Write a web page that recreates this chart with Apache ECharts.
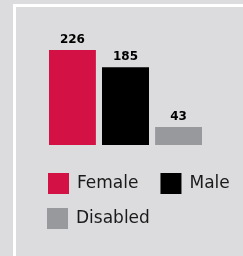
<!DOCTYPE html>
<html>
<head>
<meta charset="utf-8">
<script src="https://cdn.jsdelivr.net/npm/echarts@6/dist/echarts.min.js"></script>
<style>
  html, body { margin: 0; padding: 0; background: #dcdcde; }
  #main { width: 243px; height: 256px; }
</style>
</head>
<body>
<div id="main"></div>
<script>
var names = ['Female', 'Male', 'Disabled']
var values = [226, 185, 43]
var colors = ['#d31145', '#000000', '#98999c']

var myChart = echarts.init(document.getElementById('main'))

var series = names.map((n, i) => {
    return {
        name: n,
        type: 'bar',
        data: [values[i]],
        barWidth: 47,
        barGap: '13%',
        itemStyle: { color: colors[i] },
        label: {
            show: true,
            position: 'top',
            distance: 4,
            color: '#000',
            fontFamily: 'DejaVu Sans',
            fontWeight: 'bold',
            fontSize: 12
        }
    }
})

// two rows of legend, like the original
var legendBase = {
    padding: 0,
    itemWidth: 21,
    itemHeight: 21,
    itemGap: 22,
    icon: 'rect',
    textStyle: {
        fontFamily: 'DejaVu Sans',
        fontSize: 17,
        color: '#1a1a1a',
        padding: [0, 0, 0, 3]
    }
}

var option = {
    backgroundColor: '#dcdcde',
    animation: false,
    graphic: [{
        type: 'rect',
        shape: { x: 14.5, y: 5.5, width: 280, height: 300 },
        style: { fill: 'none', stroke: '#ffffff', lineWidth: 3 },
        silent: true
    }],
    grid: { left: 49, right: 41, top: 40, bottom: 111 },
    xAxis: {
        type: 'category',
        data: [''],
        show: false
    },
    yAxis: {
        type: 'value',
        min: 0,
        max: 250,
        show: false
    },
    legend: [
        { ...legendBase, left: 48, top: 173, data: names.slice(0, 2) },
        { ...legendBase, left: 47, top: 208, data: names.slice(2) }
    ],
    series: series
}

myChart.setOption(option)
</script>
</body>
</html>
